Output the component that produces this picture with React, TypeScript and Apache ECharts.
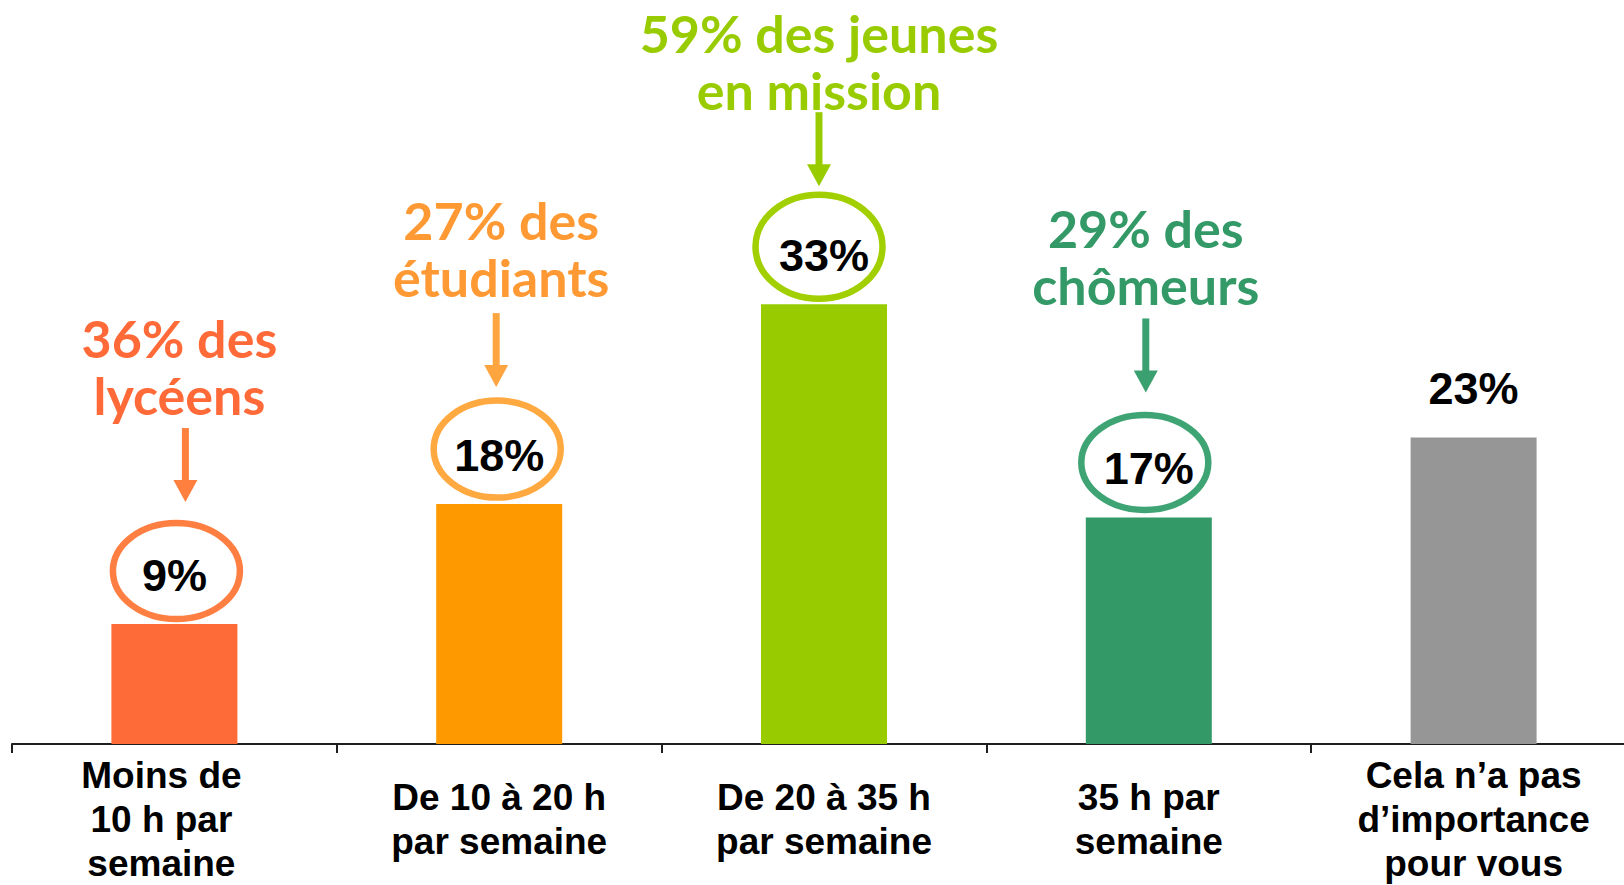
import React, { useEffect, useRef } from "react";
import * as echarts from "echarts";

const categories = [
  "Moins de\n10 h par\nsemaine",
  "De 10 à 20 h\npar semaine",
  "De 20 à 35 h\npar semaine",
  "35 h par\nsemaine",
  "Cela n’a pas\nd’importance\npour vous",
];
const values = [9, 18, 33, 17, 23];
const barColors = ["#FF6A39", "#FF9900", "#99CC00", "#339966", "#969696"];

const annotatedIndex = [0, 1, 2, 3];
const annotationTexts = [
  "36% des\nlycéens",
  "27% des\nétudiants",
  "59% des jeunes\nen mission",
  "29% des\nchômeurs",
];
const annotationColors = ["#FF6A38", "#FF9933", "#99CC00", "#339966"];
const arrowColors = ["#FF7F3F", "#FFA540", "#99CC00", "#3BA070"];
const ringColors = ["#FF7E42", "#FFA940", "#A2CF00", "#3FA474"];

// layout nudges for annotations (px)
const ringNudgeX = [2, -2, -5, -4];
const arrowNudgeX = [11, -3, -5, -3];
const textNudgeX = [-6, 5, 0, 0];
const ringRy = [48, 48.5, 52, 47.5];
const ringLift = [53, 55, 57.5, 55];
const tipLift = [122, 117, 118, 125];
const textGap = [33, 36, 22, 33];

const LABEL_FONT = "'Liberation Sans', Arial, sans-serif";
const ANN_FONT = "Lato, 'Open Sans', sans-serif";

export default function App() {
  const ref = useRef<HTMLDivElement>(null);
  useEffect(() => {
    if (!ref.current) return;
    const chart = echarts.init(ref.current, undefined, { renderer: "svg" });
    const option: any = {
      animation: false,
      backgroundColor: "#ffffff",
      grid: { left: 12, right: 0, top: 11, bottom: 140 },
      xAxis: {
        type: "category",
        data: categories,
        axisLine: { show: true, lineStyle: { color: "#1f1f1f", width: 2 } },
        axisTick: { show: true, length: 9, lineStyle: { color: "#1f1f1f", width: 2 } },
        axisLabel: {
          interval: 0,
          margin: 75,
          verticalAlign: "middle",
          color: "#000",
          fontFamily: LABEL_FONT,
          fontWeight: "bold",
          fontSize: 37,
          lineHeight: 44,
          formatter: (val: string, idx: number) => {
            if (idx === 0) {
              return val
                .split("\n")
                .map((l) => `{l|${l}}`)
                .join("\n");
            }
            return val;
          },
          rich: {
            l: {
              fontFamily: LABEL_FONT,
              fontWeight: "bold",
              fontSize: 37,
              lineHeight: 44,
              color: "#000",
              padding: [0, 26, 0, 0],
            },
          },
        },
      },
      yAxis: {
        type: "value",
        min: 0,
        max: 55,
        show: false,
        splitLine: { show: false },
      },
      series: [
        {
          type: "bar",
          data: values.map((v, i) => ({ value: v, itemStyle: { color: barColors[i] } })),
          barWidth: 126,
          label: {
            show: true,
            position: "top",
            distance: 26,
            formatter: "{c}%",
            color: "#000",
            fontFamily: LABEL_FONT,
            fontWeight: "bold",
            fontSize: 45,
            lineHeight: 45,
          },
        },
        {
          type: "custom",
          z: 5,
          clip: false,
          silent: true,
          encode: { x: 0, y: 1 },
          data: annotatedIndex.map((i) => [i, values[i]]),
          renderItem: (params: any, api: any) => {
            const k = params.dataIndex;
            const pt = api.coord([api.value(0), api.value(1)]);
            const bx = pt[0];
            const by = pt[1];
            const cx = bx + ringNudgeX[k];
            const ry = ringRy[k];
            const cy = by - ringLift[k];
            const tipY = by - tipLift[k];
            const ax = bx + arrowNudgeX[k];
            const topY = tipY - 74;
            const headH = 22;
            const headW = 12;
            return {
              type: "group",
              children: [
                {
                  type: "ellipse",
                  shape: { cx, cy, rx: 63.5, ry },
                  style: { fill: "transparent", stroke: ringColors[k], lineWidth: 6.5 },
                },
                {
                  type: "line",
                  shape: { x1: ax, y1: topY, x2: ax, y2: tipY - headH + 1 },
                  style: { stroke: arrowColors[k], lineWidth: 7 },
                },
                {
                  type: "polygon",
                  shape: {
                    points: [
                      [ax - headW, tipY - headH],
                      [ax + headW, tipY - headH],
                      [ax, tipY],
                    ],
                  },
                  style: { fill: arrowColors[k] },
                },
                {
                  type: "text",
                  style: {
                    text: annotationTexts[k],
                    x: ax + textNudgeX[k],
                    y: topY - textGap[k] - 28.5,
                    fill: annotationColors[k],
                    fontFamily: ANN_FONT,
                    fontWeight: "bold",
                    fontSize: 52,
                    lineHeight: 57,
                    align: "center",
                    verticalAlign: "middle",
                  },
                },
              ],
            };
          },
        },
      ],
    };
    chart.setOption(option);
    return () => chart.dispose();
  }, []);
  return (
    <div
      ref={ref}
      style={{ position: "fixed", left: 0, top: 0, width: 1636, height: 885, background: "#fff" }}
    />
  );
}
